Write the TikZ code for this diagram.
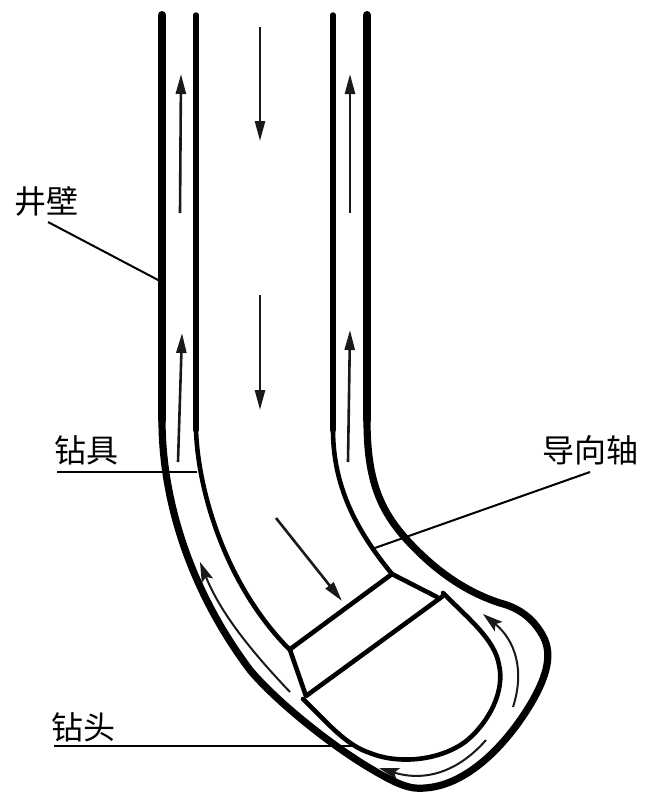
\documentclass[tikz,border=0pt]{standalone}
\usepackage{fontspec}
\newfontfamily\cjk{Noto Sans CJK SC}
\usetikzlibrary{arrows.meta}
\tikzset{
  wall/.style={line width=8pt,black,line cap=round},
  wallcurve/.style={line width=7.2pt,black,line join=round,line cap=round},
  tube/.style={line width=5.4pt,black,line cap=round},
  tubecurve/.style={line width=4.6pt,black,line join=round,line cap=round},
  flow/.style={line width=2.6pt,black!90,-{Triangle[length=20pt,width=10pt]}},
  flowcurve/.style={line width=2pt,black!90,-{Stealth[length=20pt,width=12pt,inset=4pt]}},
  leader/.style={line width=2pt,black},
  lab/.style={font=\cjk\fontsize{32}{32}\selectfont,inner sep=0pt,anchor=center,text=black}
}
\begin{document}
\begin{tikzpicture}[x=1pt,y=-1pt]
\useasboundingbox (0,0) rectangle (657,801);
% well wall
\draw[wall] (162,15) -- (162,420);
\draw[wall] (367,15) -- (367,420);
\draw[wallcurve] (162,420)
  .. controls (162,500) and (190,590) .. (250,670)
  .. controls (275,700) and (330,745) .. (373,770)
  .. controls (395,783) and (410,790) .. (425,788)
  .. controls (470,785) and (510,740) .. (533,700)
  .. controls (547,675) and (552,655) .. (544,638)
  .. controls (535,620) and (520,608) .. (500,603)
  .. controls (460,590) and (430,565) .. (407,540)
  .. controls (380,510) and (367,480) .. (367,420);
% drill string
\draw[tube] (196,15) -- (196,430);
\draw[tube] (333,15) -- (333,430);
\draw[tubecurve] (196,430) .. controls (198,490) and (225,585) .. (290,650);
\draw[tubecurve] (333,430) .. controls (333,490) and (360,535) .. (392,574);
\draw[tubecurve] (392,574) -- (437,597);
\draw[tubecurve] (290,650) -- (306,696);
\draw[line width=4.6pt] (289,650) -- (392,574);
\draw[line width=4.6pt] (306,696) -- (443,596);
% bit
\draw[tubecurve] (303,699)
  .. controls (325,720) and (345,745) .. (370,753)
  .. controls (400,765) and (440,760) .. (465,742)
  .. controls (490,722) and (505,690) .. (499,665)
  .. controls (495,640) and (470,620) .. (443,593);
% flow arrows
\draw[flow] (180,213) -- (181,74);
\draw[flow] (350,213) -- (350,74);
\draw[flow] (260,27) -- (260,141);
\draw[flow] (260,295) -- (260,410);
\draw[flow] (178,462) -- (182,333);
\draw[flow] (348,462) -- (350,330);
\draw[flow] (276,518) -- (342,601);
\draw[flowcurve] (290,692) .. controls (250,650) and (220,612) .. (200,562);
\draw[flowcurve] (513,707) .. controls (525,670) and (515,640) .. (483,614);
\draw[flowcurve] (486,740) .. controls (458,772) and (425,782) .. (379,768);
% labels
\node[lab] (well) at (47,201) {井壁};
\node[lab] (tool) at (86,450) {钻具};
\node[lab] (bit) at (83,727) {钻头};
\node[lab] (shaft) at (590,450) {导向轴};
\coordinate (wellS) at (48,222);
\coordinate (wellE) at (160,281);
\coordinate (toolS) at (57,472);
\coordinate (toolE) at (197,472);
\coordinate (bitS) at (54,746);
\coordinate (bitE) at (352,746);
\coordinate (shaftS) at (590,472);
\coordinate (shaftE) at (372,549);
\draw[leader] (wellS) -- (wellE);
\draw[leader] (toolS) -- (toolE);
\draw[leader] (bitS) -- (bitE);
\draw[leader] (shaftS) -- (shaftE);
\end{tikzpicture}
\end{document}
